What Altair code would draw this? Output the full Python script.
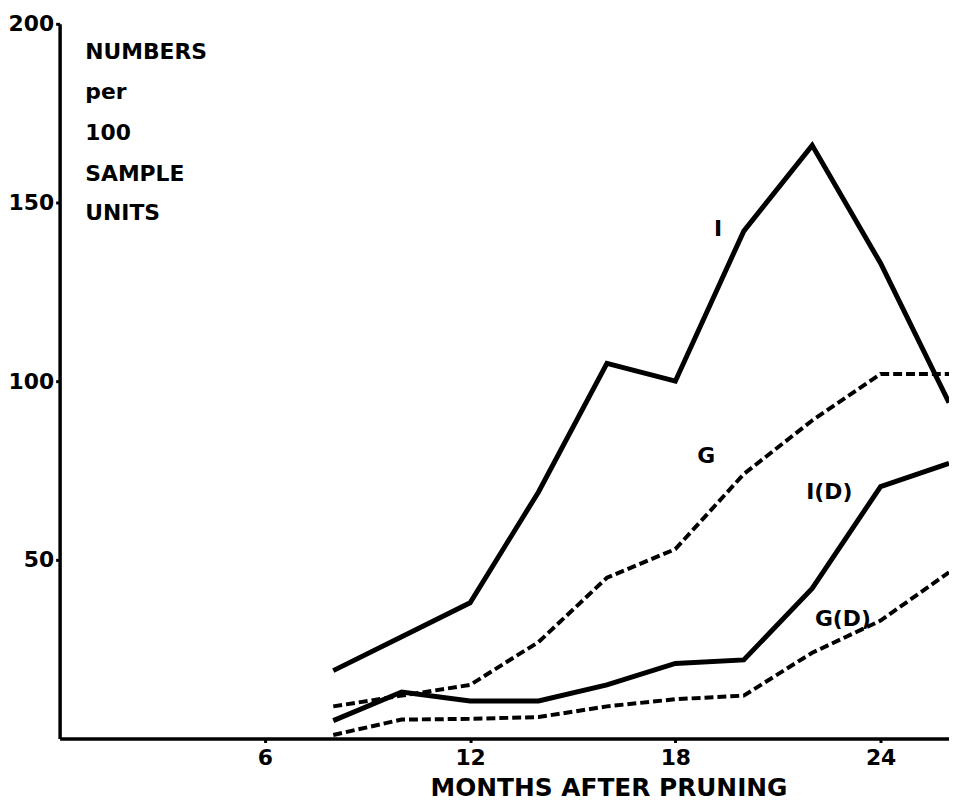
import altair as alt
import pandas as pd

months = [8, 10, 12, 14, 16, 18, 20, 22, 24, 26]
series_I = [19, 28.5, 38, 69, 105, 100, 142, 166, 133, 94]
series_G = [9, 12, 15, 27, 45, 53, 74, 89, 102, 102]
series_ID = [5, 13, 10.5, 10.5, 15, 21, 22, 42, 70.5, 77]
series_GD = [1, 5.3, 5.5, 6, 9, 11, 12, 24, 33, 46.5]

x_ticks = [6, 12, 18, 24]
y_ticks = [50, 100, 150, 200]

ylabel_lines = ["NUMBERS", "per", "100", "SAMPLE", "UNITS"]
ylabel_y = [192, 181, 169.5, 158, 147]
ylabel_x = 0.75

series_labels = ["I", "G", "I(D)", "G(D)"]
label_x = [19.25, 18.9, 22.5, 22.9]
label_y = [142.5, 79, 69, 33.3]

FONT = "DejaVu Sans"

rows = []
for name, vals in [("I", series_I), ("G", series_G), ("I(D)", series_ID), ("G(D)", series_GD)]:
    for m, v in zip(months, vals):
        rows.append({"month": m, "value": v, "series": name})
df = pd.DataFrame(rows)
solid_df = df[df.series.isin(["I", "I(D)"])]
dashed_df = df[df.series.isin(["G", "G(D)"])]

xscale = alt.Scale(domain=[0, 26], nice=False, zero=False)
yscale = alt.Scale(domain=[0, 200], nice=False)

xaxis = alt.Axis(values=x_ticks, title="MONTHS AFTER PRUNING", grid=False,
                 labelFont=FONT, labelFontSize=22, labelFontWeight="bold", labelColor="black",
                 titleFont=FONT, titleFontSize=25, titleFontWeight="bold", titleColor="black",
                 titleX=553, titleY=57, titleBaseline="alphabetic",
                 domainColor="black", domainWidth=3.5, tickColor="black", tickWidth=3, tickSize=4,
                 labelPadding=5)
yaxis = alt.Axis(values=y_ticks, title=None, grid=False,
                 labelFont=FONT, labelFontSize=22, labelFontWeight="bold", labelColor="black",
                 domainColor="black", domainWidth=3.5, tickColor="black", tickWidth=3, tickSize=4,
                 labelPadding=2)

solid = alt.Chart(solid_df).mark_line(color="black", strokeWidth=5, strokeJoin="miter").encode(
    x=alt.X("month:Q", scale=xscale, axis=xaxis),
    y=alt.Y("value:Q", scale=yscale, axis=yaxis),
    detail="series:N",
)
dashed = alt.Chart(dashed_df).mark_line(color="black", strokeWidth=4, strokeDash=[9, 4]).encode(
    x=alt.X("month:Q", scale=xscale),
    y=alt.Y("value:Q", scale=yscale),
    detail="series:N",
)

ylab_df = pd.DataFrame({"text": ylabel_lines, "x": [ylabel_x] * len(ylabel_lines), "y": ylabel_y})
ylab = alt.Chart(ylab_df).mark_text(font=FONT, fontSize=22, fontWeight="bold", align="left",
                                    baseline="middle", color="black").encode(
    x=alt.X("x:Q", scale=xscale), y=alt.Y("y:Q", scale=yscale), text="text:N")

slab_df = pd.DataFrame({"text": series_labels, "x": label_x, "y": label_y})
slab = alt.Chart(slab_df).mark_text(font=FONT, fontSize=22, fontWeight="bold", align="center",
                                    baseline="middle", color="black").encode(
    x=alt.X("x:Q", scale=xscale), y=alt.Y("y:Q", scale=yscale), text="text:N")

chart = alt.layer(solid, dashed, ylab, slab).properties(
    width=896, height=720,
    background="white",
    autosize=alt.AutoSizeParams(type="none"),
    padding={"left": 52, "top": 13, "right": 0, "bottom": 62},
).configure_view(stroke=None)

chart.save("out.html", embed_options={"renderer": "svg", "actions": False})
